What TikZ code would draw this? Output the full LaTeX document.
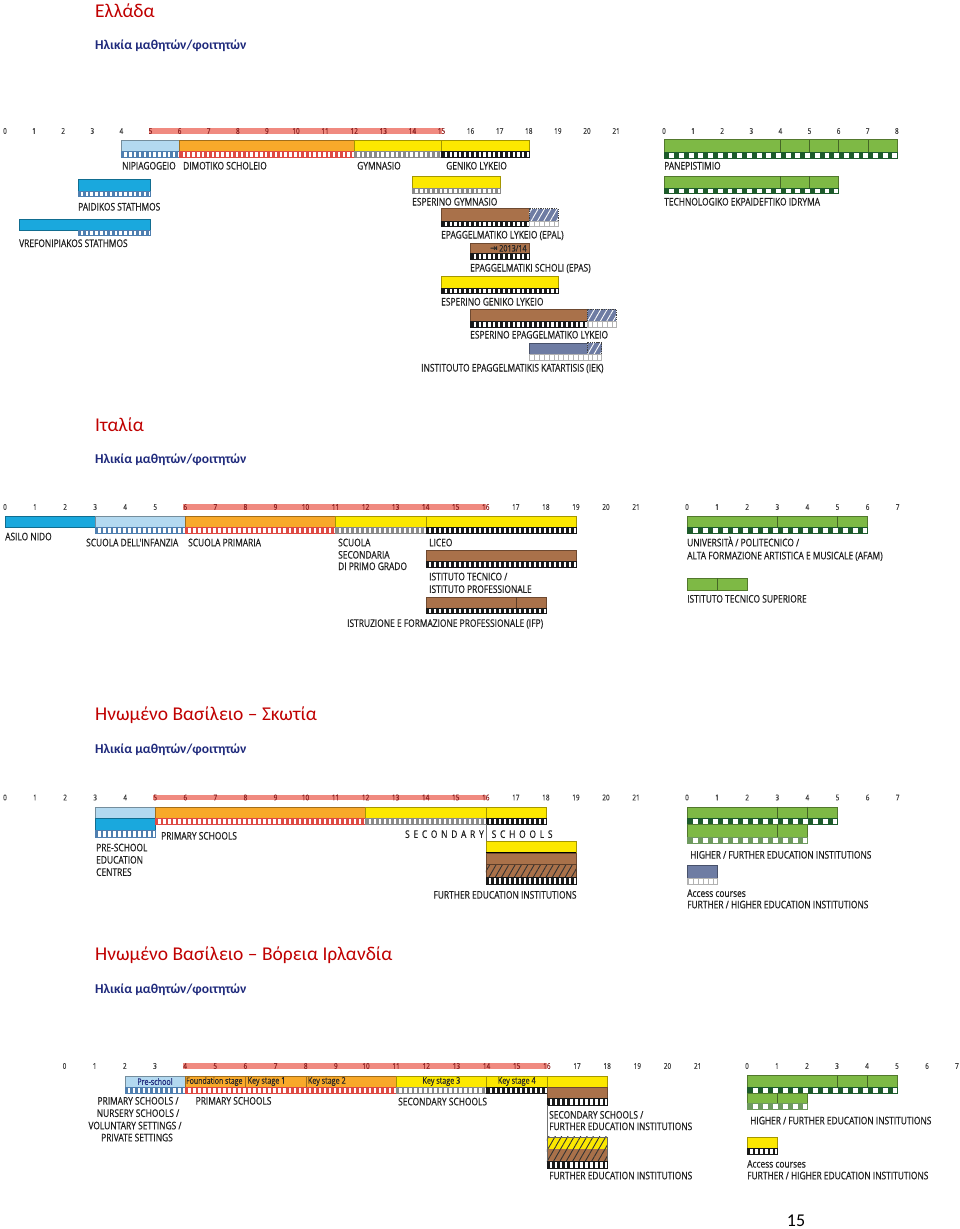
\documentclass[tikz,border=0pt]{standalone}
\usepackage{fontspec}
\setmainfont{Carlito}
\newfontfamily\labf[FakeStretch=0.8,FakeBold=0.5]{Open Sans}
\newfontfamily\numf[FakeStretch=0.8,FakeBold=0.4]{Open Sans}
\newfontfamily\dvs{DejaVu Sans}
\usetikzlibrary{patterns.meta}
\definecolor{cLB}{HTML}{B3D9F0}
\definecolor{cB}{HTML}{1AA8DD}
\definecolor{cOr}{HTML}{F8A92A}
\definecolor{cYe}{HTML}{FCE800}
\definecolor{cBr}{HTML}{A9714A}
\definecolor{cBG}{HTML}{6E7CA3}
\definecolor{cGr}{HTML}{7EB945}
\definecolor{cDG}{HTML}{1D5B2B}
\definecolor{cLG}{HTML}{6E9A5E}
\definecolor{cRB}{HTML}{F08A80}
\definecolor{cNR}{HTML}{8E2424}
\definecolor{cTitle}{HTML}{C00000}
\definecolor{cSub}{HTML}{1F2A7C}
\definecolor{cKS}{HTML}{4F7FB0}
\definecolor{cPS}{HTML}{DE4A44}
\definecolor{cLS}{HTML}{8A8A8A}
\definecolor{cUS}{HTML}{1A1A1A}
\tikzset{
  lab/.style={font=\labf\fontsize{10.5}{12}\selectfont, anchor=base west, inner sep=0pt, text=black!88},
  labc/.style={lab, anchor=base},
  inb/.style={font=\labf\fontsize{9}{10}\selectfont, anchor=west, inner sep=0pt, text=black!85},
  num/.style={font=\numf\fontsize{8}{9}\selectfont, inner sep=0pt, text=black!75},
  ttl/.style={font=\fontsize{19.5}{22}\selectfont, text=cTitle, anchor=west, inner sep=0pt},
  subt/.style={font=\bfseries\fontsize{13.5}{15}\selectfont, text=cSub, anchor=west, inner sep=0pt},
  divl/.style={line width=0.4pt},
}
% block: x1 x2 y1 y2 colour
\newcommand\blk[5]{\filldraw[fill=#5, draw=#5!65!black, line width=0.4pt] ({#1},{#3}) rectangle ({#2},{#4});}
% stripe row: [period] x1 x2 y1 y2 colour fraction
\newcommand\strp[7][4.85]{%
  \fill[white] ({#2},{#4}) rectangle ({#3},{#5});
  \begin{scope}
  \clip ({#2},{#4}) rectangle ({#3},{#5});
  \pgfmathsetmacro\sxa{#2}\pgfmathsetmacro\sxb{#3}
  \pgfmathsetmacro\sn{int(ceil((\sxb-\sxa)/#1))}
  \foreach \i in {0,...,\sn}{\fill[#6] ({\sxa+\i*#1+0.5},{#4}) rectangle ++({#1*#7},{#5-#4});}
  \end{scope}
  \draw[#6, line width=0.4pt] ({#2},{#4}) rectangle ({#3},{#5});}
% hatched block: x1 x2 y1 y2 fill linecolour
\newcommand\hblk[6]{%
  \fill[#5] ({#1},{#3}) rectangle ({#2},{#4});
  \fill[pattern={Lines[angle=60,distance=5.5pt,line width=0.9pt]}, pattern color=#6] ({#1},{#3}) rectangle ({#2},{#4});}
\newcommand\dbox[4]{\draw[black!75, line width=0.5pt, dash pattern=on 1.3pt off 0.9pt] ({#1},{#3}) rectangle ({#2},{#4});}
% ages row: function max y redfrom redto
\newcommand\ages[5]{%
  \ifnum#4<#5 \fill[cRB] ({#1(#4)-2},{#3-2.6}) rectangle ({#1(#5)},{#3+2.6});\fi
  \foreach \a in {0,...,#2}{%
    \ifnum\a<#4 \def\nc{black!75}\else\ifnum\a>#5 \def\nc{black!75}\else\def\nc{cNR}\fi\fi
    \node[num, text=\nc] at ({#1(\a)},{#3}) {\a};}}
\begin{document}
\begin{tikzpicture}[x=1pt,y=-1pt,
  declare function={gx(\t)=5+29.1*\t; gt(\t)=664+29.1*\t; ix(\t)=5+30.05*\t; it(\t)=687+30.1*\t; nx(\t)=64.5+30.15*\t; nt(\t)=747+30*\t;}]
\useasboundingbox (0,0) rectangle (960,1229);
\fill[white] (0,0) rectangle (960,1229);

% ===================== GREECE =====================
\node[ttl] (t1) at (95,11) {Ελλάδα};
\node[subt] (s1) at (95,46) {Ηλικία μαθητών/φοιτητών};
\ages{gx}{21}{131}{5}{15}
\ages{gt}{8}{131}{99}{0}

\blk{gx(4)}{gx(6)}{140}{151.5}{cLB}
\strp{gx(4)}{gx(6)}{151.5}{157}{cKS}{0.5}
\blk{gx(6)}{gx(12)}{140}{151.5}{cOr}
\strp{gx(6)}{gx(12)}{151.5}{157}{cPS}{0.5}
\blk{gx(12)}{gx(15)}{140}{151.5}{cYe}
\strp{gx(12)}{gx(15)}{151.5}{157}{cLS}{0.5}
\blk{gx(15)}{gx(18)}{140}{151.5}{cYe}
\strp{gx(15)}{gx(18)}{151.5}{157}{cUS}{0.55}
\node[lab] (g1) at (122,169.5) {NIPIAGOGEIO};
\node[lab] (g2) at (183,169.5) {DIMOTIKO SCHOLEIO};
\node[lab] (g3) at (357,169.5) {GYMNASIO};
\node[lab] (g4) at (446,169.5) {GENIKO LYKEIO};

\blk{gx(2.5)}{gx(5)}{179}{191}{cB}
\strp{gx(2.5)}{gx(5)}{191}{196.5}{cKS}{0.5}
\node[lab] (g5) at (78,210.5) {PAIDIKOS STATHMOS};
\blk{gx(0.5)}{gx(5)}{219.5}{230}{cB}
\strp{gx(2.5)}{gx(5)}{230}{235.5}{cKS}{0.5}
\node[lab] (g6) at (19,247) {VREFONIPIAKOS STATHMOS};

\blk{gx(14)}{gx(17)}{176}{188}{cYe}
\strp{gx(14)}{gx(17)}{188}{193.5}{cLS}{0.5}
\node[lab] (g7) at (412,205.5) {ESPERINO GYMNASIO};

\blk{gx(15)}{gx(18)}{208.5}{221}{cBr}
\strp{gx(15)}{gx(18)}{221}{226.5}{cUS}{0.55}
\hblk{gx(18)}{gx(19)}{208.5}{221}{cBG}{white}
\dbox{gx(18)}{gx(19)}{208.5}{221}
\strp{gx(18)}{gx(19)}{221}{226.5}{gray!60}{0.15}
\node[lab] (g8) at (441,238.5) {EPAGGELMATIKO LYKEIO (EPAL)};

\blk{gx(16)}{gx(18)}{243}{253.5}{cBr}
\node[font=\labf\fontsize{9}{10}\selectfont, text=black!85, inner sep=0pt] (g9t) at ({gx(17.3)},248.3) {{\dvs\bfseries ⇥}\,2013/14};
\strp{gx(16)}{gx(18)}{253.5}{259}{cUS}{0.55}
\node[lab] (g9) at (470,271.5) {EPAGGELMATIKI SCHOLI (EPAS)};

\blk{gx(15)}{gx(19)}{276}{287.7}{cYe}
\strp{gx(15)}{gx(19)}{287.7}{293.3}{cUS}{0.55}
\node[lab] (g10) at (441,305.5) {ESPERINO GENIKO LYKEIO};

\blk{gx(16)}{gx(20)}{309.3}{321}{cBr}
\strp{gx(16)}{gx(20)}{321}{326.7}{cUS}{0.55}
\hblk{gx(20)}{gx(21)}{309.3}{321}{cBG}{white}
\dbox{gx(20)}{gx(21)}{309.3}{321}
\strp{gx(20)}{gx(21)}{321}{326.7}{gray!60}{0.15}
\node[lab] (g11) at (470,338.5) {ESPERINO EPAGGELMATIKO LYKEIO};

\blk{gx(18)}{gx(20)}{342.7}{354.3}{cBG}
\hblk{gx(20)}{gx(20.5)}{342.7}{354.3}{cBG}{white}
\dbox{gx(20)}{gx(20.5)}{342.7}{354.3}
\strp{gx(18)}{gx(20.5)}{354.3}{360}{gray!60}{0.15}
\node[lab] (g12) at (421,371.5) {INSTITOUTO EPAGGELMATIKIS KATARTISIS (IEK)};

\blk{gt(0)}{gt(8)}{139.5}{151.7}{cGr}
\foreach \k in {4,5,6,7}{\draw[divl, cGr!55!black] ({gt(\k)},139.5) -- ({gt(\k)},151.7);}
\strp[9.7]{gt(0)}{gt(8)}{151.7}{157.7}{cDG}{0.5}
\node[lab] (g13) at (664,169.5) {PANEPISTIMIO};
\blk{gt(0)}{gt(6)}{176}{187.7}{cGr}
\foreach \k in {4,5}{\draw[divl, cGr!55!black] ({gt(\k)},176) -- ({gt(\k)},187.7);}
\strp[9.7]{gt(0)}{gt(6)}{187.7}{193.3}{cDG}{0.5}
\node[lab] (g14) at (664,205.5) {TECHNOLOGIKO EKPAIDEFTIKO IDRYMA};

% ===================== ITALY =====================
\node[ttl] (t2) at (95,425) {Ιταλία};
\node[subt] (s2) at (95,460) {Ηλικία μαθητών/φοιτητών};
\ages{ix}{21}{507}{6}{16}
\ages{it}{7}{507}{99}{0}

\blk{ix(0)}{ix(3)}{516}{527.5}{cB}
\blk{ix(3)}{ix(6)}{516}{527.5}{cLB}
\strp[5.01]{ix(3)}{ix(6)}{527.5}{533.3}{cKS}{0.5}
\blk{ix(6)}{ix(11)}{516}{527.5}{cOr}
\strp[5.01]{ix(6)}{ix(11)}{527.5}{533.3}{cPS}{0.5}
\blk{ix(11)}{ix(14)}{516}{527.5}{cYe}
\strp[5.01]{ix(11)}{ix(14)}{527.5}{533.3}{cLS}{0.5}
\blk{ix(14)}{ix(19)}{516}{527.5}{cYe}
\strp[5.01]{ix(14)}{ix(19)}{527.5}{533.3}{cUS}{0.55}
\node[lab] (i1) at (5,540.3) {ASILO NIDO};
\node[lab] (i2) at (86,546.3) {SCUOLA DELL'INFANZIA};
\node[lab] (i3) at (188,546.3) {SCUOLA PRIMARIA};
\node[lab] (i4) at (338,546.3) {SCUOLA};
\node[lab] (i5) at (338,558.6) {SECONDARIA};
\node[lab] (i6) at (338,570) {DI PRIMO GRADO};
\node[lab] (i7) at (429,546.3) {LICEO};

\blk{ix(14)}{ix(19)}{550}{561}{cBr}
\strp[5.01]{ix(14)}{ix(19)}{561}{567}{cUS}{0.55}
\node[lab] (i8) at (429,580.3) {ISTITUTO TECNICO /};
\node[lab] (i9) at (429,592.9) {ISTITUTO PROFESSIONALE};
\blk{ix(14)}{ix(18)}{597}{608}{cBr}
\draw[divl, cBr!55!black] ({ix(17)},597) -- ({ix(17)},608);
\strp[5.01]{ix(14)}{ix(18)}{608}{613.5}{cUS}{0.55}
\node[lab] (i10) at (347,626.9) {ISTRUZIONE E FORMAZIONE PROFESSIONALE (IFP)};

\blk{it(0)}{it(6)}{516}{527.5}{cGr}
\foreach \k in {3,5}{\draw[divl, cGr!55!black] ({it(\k)},516) -- ({it(\k)},527.5);}
\strp[10.03]{it(0)}{it(6)}{527.5}{533.3}{cDG}{0.5}
\node[lab] (i11) at (687,546.3) {UNIVERSITÀ / POLITECNICO /};
\node[lab] (i12) at (687,559.3) {ALTA FORMAZIONE ARTISTICA E MUSICALE (AFAM)};
\blk{it(0)}{it(2)}{578}{590}{cGr}
\draw[divl, cGr!55!black] ({it(1)},578) -- ({it(1)},590);
\node[lab] (i13) at (687,602.6) {ISTITUTO TECNICO SUPERIORE};

% ===================== SCOTLAND =====================
\node[ttl] (t3) at (95,715) {Ηνωμένο Βασίλειο – Σκωτία};
\node[subt] (s3) at (95,750) {Ηλικία μαθητών/φοιτητών};
\ages{ix}{21}{797.5}{5}{16}
\ages{it}{7}{797.5}{99}{0}

\blk{ix(3)}{ix(5)}{806.7}{818.3}{cLB}
\blk{ix(3)}{ix(5)}{818.3}{830.5}{cB}
\strp[5.01]{ix(3)}{ix(5)}{830.5}{837}{cKS}{0.5}
\blk{ix(5)}{ix(12)}{806.7}{818.3}{cOr}
\strp[5.01]{ix(5)}{ix(12)}{818.3}{824}{cPS}{0.5}
\blk{ix(12)}{ix(16)}{806.7}{818.3}{cYe}
\strp[5.01]{ix(12)}{ix(16)}{818.3}{824}{cLS}{0.5}
\blk{ix(16)}{ix(18)}{806.7}{818.3}{cYe}
\strp[5.01]{ix(16)}{ix(18)}{818.3}{824}{cUS}{0.55}
\draw[divl, black!55] ({ix(16)},824) -- ({ix(16)},840.7);
\node[lab] (c1) at (96,851.3) {PRE-SCHOOL};
\node[lab] (c2) at (96,863.6) {EDUCATION};
\node[lab] (c3) at (96,875.9) {CENTRES};
\node[lab] (c4) at (161,839.6) {PRIMARY SCHOOLS};
\node[lab, anchor=base east] (c5) at (484,837.9) {\addfontfeature{LetterSpace=36}SECONDARY};
\node[lab] (c6) at (491.5,837.9) {\addfontfeature{LetterSpace=36}SCHOOLS};

\blk{ix(16)}{ix(19)}{840.7}{852.7}{cYe}
\blk{ix(16)}{ix(19)}{852.7}{864.3}{cBr}
\hblk{ix(16)}{ix(19)}{864.3}{877.3}{cBr}{black!80}
\draw[divl, cBr!55!black] ({ix(16)},864.3) rectangle ({ix(19)},877.3);
\draw[line width=0.8pt, black] ({ix(16)},852.7) -- ({ix(19)},852.7);
\strp[5.01]{ix(16)}{ix(19)}{877.3}{884}{cUS}{0.55}
\node[lab] (c7) at (433.3,898.6) {FURTHER EDUCATION INSTITUTIONS};

\blk{it(0)}{it(5)}{806.7}{818.3}{cGr}
\foreach \k in {3,4}{\draw[divl, cGr!55!black] ({it(\k)},806.7) -- ({it(\k)},818.3);}
\strp[10.03]{it(0)}{it(5)}{818.3}{824.3}{cDG}{0.5}
\blk{it(0)}{it(4)}{824.3}{836.7}{cGr}
\draw[divl, cGr!55!black] ({it(3)},824.3) -- ({it(3)},836.7);
\strp[10.03]{it(0)}{it(4)}{836.7}{842.7}{cLG}{0.5}
\node[lab] (c8) at (690,858.6) {HIGHER / FURTHER EDUCATION INSTITUTIONS};
\blk{it(0)}{it(1)}{865}{877.7}{cBG}
\strp[5.01]{it(0)}{it(1)}{877.7}{884}{gray!60}{0.15}
\node[lab] (c9) at (687,896.9) {Access courses};
\node[lab] (c10) at (687,908.3) {FURTHER / HIGHER EDUCATION INSTITUTIONS};

% ===================== NORTHERN IRELAND =====================
\node[ttl] (t4) at (95,955) {Ηνωμένο Βασίλειο – Βόρεια Ιρλανδία};
\node[subt] (s4) at (95,990) {Ηλικία μαθητών/φοιτητών};
\ages{nx}{21}{1066}{4}{16}
\ages{nt}{7}{1066}{99}{0}

\blk{nx(2)}{nx(4)}{1076}{1087}{cLB}
\node[inb, anchor=center, text=cSub] (n1) at ({nx(3)},1081.5) {Pre-school};
\strp[5.02]{nx(2)}{nx(4)}{1087}{1093}{cKS}{0.5}
\blk{nx(4)}{nx(6)}{1076}{1087}{cOr}
\blk{nx(6)}{nx(8)}{1076}{1087}{cOr}
\blk{nx(8)}{nx(11)}{1076}{1087}{cOr}
\node[inb, font=\labf\fontsize{8.7}{10}\selectfont] (n2) at ({nx(4)+0.8},1081.5) {Foundation stage};
\node[inb] (n3) at ({nx(6)+2},1081.5) {Key stage 1};
\node[inb] (n4) at ({nx(8)+2},1081.5) {Key stage 2};
\strp[5.02]{nx(4)}{nx(11)}{1087}{1093}{cPS}{0.5}
\blk{nx(11)}{nx(14)}{1076}{1087}{cYe}
\blk{nx(14)}{nx(16)}{1076}{1087}{cYe}
\node[inb, anchor=center] (n5) at ({nx(12.5)},1081.5) {Key stage 3};
\node[inb, anchor=center] (n6) at ({nx(15)},1081.5) {Key stage 4};
\strp[5.02]{nx(11)}{nx(14)}{1087}{1093}{cLS}{0.5}
\strp[5.02]{nx(14)}{nx(16)}{1087}{1093}{cUS}{0.55}
\blk{nx(16)}{nx(18)}{1076}{1087}{cYe}
\blk{nx(16)}{nx(18)}{1087}{1098.5}{cBr}
\strp[5.02]{nx(16)}{nx(18)}{1098.5}{1105}{cUS}{0.55}
\draw[divl, black!55] ({nx(16)},1105) -- ({nx(16)},1136.7);
\node[labc] (n7) at (138,1104.6) {PRIMARY SCHOOLS /};
\node[labc] (n8) at (138,1116.9) {NURSERY SCHOOLS /};
\node[labc] (n9) at (135,1129.3) {VOLUNTARY SETTINGS /};
\node[labc] (n10) at (137,1141.3) {PRIVATE SETTINGS};
\node[lab] (n11) at (195.5,1104.6) {PRIMARY SCHOOLS};
\node[lab] (n12) at (398,1105.3) {SECONDARY SCHOOLS};
\node[lab] (n13) at (549,1118.6) {SECONDARY SCHOOLS /};
\node[lab] (n14) at (549,1130.1) {FURTHER EDUCATION INSTITUTIONS};

\hblk{nx(16)}{nx(18)}{1136.7}{1149.3}{cYe}{black!80}
\hblk{nx(16)}{nx(18)}{1149.3}{1161}{cBr}{black!80}
\draw[divl, black!60] ({nx(16)},1136.7) rectangle ({nx(18)},1161);
\strp[5.02]{nx(16)}{nx(18)}{1161}{1167.7}{cUS}{0.55}
\node[lab] (n15) at (549,1179.3) {FURTHER EDUCATION INSTITUTIONS};

\blk{nt(0)}{nt(5)}{1075.5}{1086.7}{cGr}
\foreach \k in {3,4}{\draw[divl, cGr!55!black] ({nt(\k)},1075.5) -- ({nt(\k)},1086.7);}
\strp[10]{nt(0)}{nt(5)}{1086.7}{1092.7}{cDG}{0.5}
\blk{nt(0)}{nt(2)}{1092.7}{1103.3}{cGr}
\draw[divl, cGr!55!black] ({nt(1)},1092.7) -- ({nt(1)},1103.3);
\strp[10]{nt(0)}{nt(2)}{1103.3}{1108.7}{cLG}{0.5}
\node[lab] (n16) at (750,1124.3) {HIGHER / FURTHER EDUCATION INSTITUTIONS};
\blk{nt(0)}{nt(1)}{1136.7}{1147.7}{cYe}
\strp[5]{nt(0)}{nt(1)}{1147.7}{1154}{cUS}{0.55}
\node[lab] (n17) at (747,1167.6) {Access courses};
\node[lab] (n18) at (747,1179.3) {FURTHER / HIGHER EDUCATION INSTITUTIONS};

\node[font=\fontsize{18}{20}\selectfont, inner sep=0pt] (pg) at (796,1221) {15};
\end{tikzpicture}
\end{document}
